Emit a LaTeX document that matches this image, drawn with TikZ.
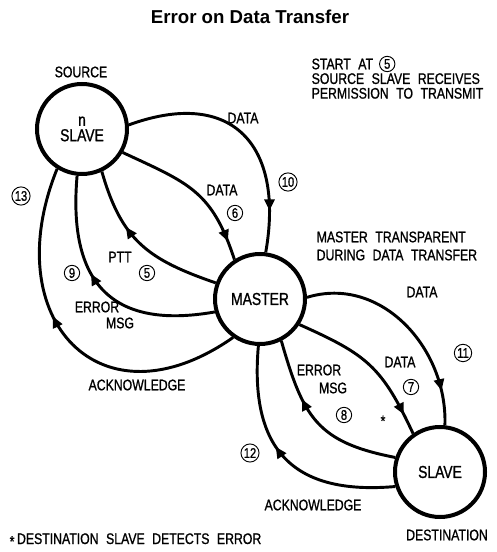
\documentclass[tikz,border=0pt]{standalone}
\usepackage{fontspec}
\setmainfont{Liberation Sans}
\newfontfamily\lblfont{Liberation Sans}[FakeStretch=0.8,FakeBold=1,WordSpace=2.2]
\usetikzlibrary{arrows.meta,decorations.markings,positioning}
\begin{document}
\begin{tikzpicture}[x=0.75pt,y=0.75pt,
  every node/.style={font=\lblfont\fontsize{11.5}{11}\selectfont},
  station/.style={circle,draw,line width=3pt,minimum size=67.5pt,inner sep=0pt,align=center,
    font=\lblfont\fontsize{13}{11.5}\selectfont},
  num/.style={circle,draw,line width=0.7pt,inner sep=0.6pt,minimum size=11.5pt,
    font=\lblfont\fontsize{10.5}{11}\selectfont},
  flow/.style={line width=2.2pt},
  tipat/.style={postaction={decorate},decoration={markings,
    mark=at position #1 with {\arrow{Triangle[length=8.5pt,width=7.5pt]}}}}]
\useasboundingbox (0,0) rectangle (496,552);
\node[font=\bfseries\fontsize{14}{16}\selectfont] (title) at (250,535) {Error on Data Transfer};
\node[station] (src) at (82,423) {n\\SLAVE};
\node[station] (master) at (260,253) {MASTER};
\node[station] (dst) at (440,80) {SLAVE};
\node (srclbl) at (81,480) {SOURCE};
\node (dstlbl) at (447,17) {DESTINATION};
\node[anchor=west] (start) at (307,488) {START AT};
\node[num,right=1pt of start] (n5start) {5};
\node[anchor=west,align=left] (permit) at (307,466) {SOURCE SLAVE RECEIVES\\PERMISSION TO TRANSMIT};
\node[anchor=west,align=left] (transp) at (312,306) {MASTER TRANSPARENT\\[2.5pt]DURING DATA TRANSFER};
\node[anchor=west] (note) at (5,12) {\raisebox{-2pt}{*}\,DESTINATION SLAVE DETECTS ERROR};
\node (data10) at (243,434) {DATA};
\node[num] (n10) at (288,370) {10};
\node (data6) at (222,362) {DATA};
\node[num] (n6) at (235,339) {6};
\node (ptt) at (120,295) {PTT};
\node[num] (n5) at (147,279) {5};
\node[num] (n9) at (72,279) {9};
\node (err9) at (97,245) {ERROR};
\node (msg9) at (120,229) {MSG};
\node[num] (n13) at (21,356) {13};
\node (ack13) at (137,167) {ACKNOWLEDGE};
\node (data11) at (422,260) {DATA};
\node[num] (n11) at (463,199) {11};
\node (data7) at (400,190) {DATA};
\node[num] (n7) at (411,165) {7};
\node (star) at (383,131) {*};
\node (err8) at (319,182) {ERROR};
\node (msg8) at (333,164) {MSG};
\node[num] (n8) at (344,137) {8};
\node[num] (n12) at (250,99) {12};
\node (ack12) at (313,47) {ACKNOWLEDGE};
\draw[flow,tipat=0.83] (src.5) to[out=20,in=80,looseness=1.5] (master.83);
\draw[flow,tipat=0.88] (src.-30) to[out=-25,in=108,looseness=1.2] (master.123);
\draw[flow,tipat=0.64] (master.160) to[out=161,in=-74,looseness=1.15] (src.-65);
\draw[flow,tipat=0.58] (master.196) to[out=190,in=-95,looseness=1.4] (src.-96);
\draw[flow,tipat=0.58] (master.235) to[out=215,in=-112,looseness=1.7] (src.238);
\draw[flow,tipat=0.84] (master.2) to[out=17,in=88,looseness=1.05] (dst.84);
\draw[flow,tipat=0.87] (master.-33) to[out=-24,in=115,looseness=1.2] (dst.125);
\draw[flow,tipat=0.65] (dst.162) to[out=169,in=-74,looseness=1.25] (master.-63);
\draw[flow,tipat=0.56] (dst.198) to[out=185,in=-95,looseness=1.35] (master.-92);
\end{tikzpicture}
\end{document}
